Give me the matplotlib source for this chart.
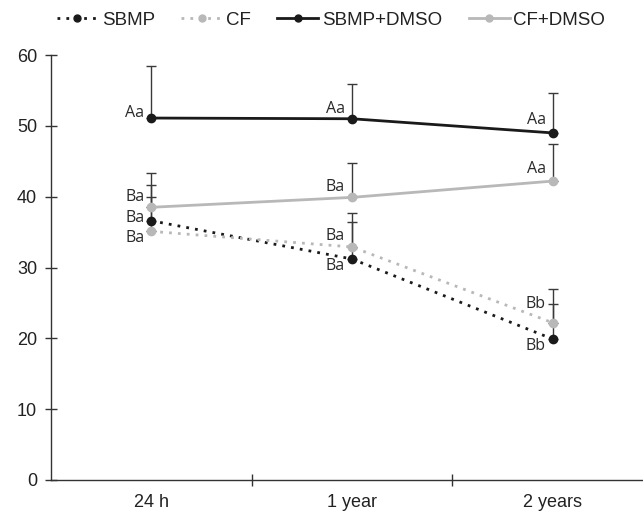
import matplotlib
matplotlib.use("Agg")
import matplotlib.pyplot as plt
from matplotlib.lines import Line2D

categories = ["24 h", "1 year", "2 years"]
series_names = ["SBMP", "CF", "SBMP+DMSO", "CF+DMSO"]
sbmp = [36.6, 31.2, 19.9]
cf = [35.1, 32.9, 22.2]
sbmp_dmso = [51.1, 51.0, 49.0]
cf_dmso = [38.5, 39.9, 42.2]
sbmp_err = [5.0, 5.2, 4.9]
cf_err = [4.9, 4.8, 4.8]
sbmp_dmso_err = [7.4, 4.9, 5.6]
cf_dmso_err = [4.9, 4.8, 5.3]
sbmp_lbl = ["Ba", "Ba", "Bb"]
cf_lbl = ["Ba", "Ba", "Bb"]
sbmp_dmso_lbl = ["Aa", "Aa", "Aa"]
cf_dmso_lbl = ["Ba", "Ba", "Aa"]
yticks = [0, 10, 20, 30, 40, 50, 60]

BLACK = "#1a1a1a"
GRAY = "#b8b8b8"
DOT = (0, (1, 2.2))

fig = plt.figure(figsize=(6.43, 5.13), dpi=100)
ax = fig.add_axes([51/643, 1-480/513, 1-51/643, (480-55)/513])

x = list(range(len(categories)))
styles = [
    (sbmp, sbmp_err, sbmp_lbl, BLACK, DOT),
    (cf, cf_err, cf_lbl, GRAY, DOT),
    (sbmp_dmso, sbmp_dmso_err, sbmp_dmso_lbl, BLACK, "-"),
    (cf_dmso, cf_dmso_err, cf_dmso_lbl, GRAY, "-"),
]
# per-point vertical label offsets (pixels)
offs = {
    0: [3, -7, -7],
    1: [-6, 11, 18],
    2: [5, 9, 12],
    3: [10, 10, 12],
}
for i, (vals, err, lbls, col, ls) in enumerate(styles):
    ax.errorbar(x, vals, yerr=[[0]*3, err], fmt="none", ecolor="#3a3a3a",
                elinewidth=1, capsize=3.5, capthick=1, zorder=2)
    ax.plot(x, vals, linestyle=ls, color=col, lw=2,
            marker="o", markersize=6, markeredgecolor=col, markerfacecolor=col,
            zorder=3)
    for j in range(3):
        ax.annotate(lbls[j], (x[j], vals[j]), xytext=(-5, offs[i][j] * 0.75),
                    textcoords="offset points", ha="right", va="center",
                    fontsize=11.5, family="Open Sans", color="#2a2a2a")

ax.set_ylim(0, 60)
ax.set_xlim(-0.5, 2.45)
ax.set_yticks(yticks)
ax.set_xticks(x)
ax.set_xticklabels(categories)
ax.set_xticks([0.5, 1.5], minor=True)
ax.tick_params(axis="x", which="major", length=0, pad=10, labelsize=13)
ax.tick_params(axis="x", which="minor", length=9, direction="inout", width=1, color="#333333")
ax.tick_params(axis="y", length=8, direction="inout", width=1, color="#333333", labelsize=13, pad=6)
for lab in ax.get_xticklabels() + ax.get_yticklabels():
    lab.set_family("Liberation Sans")
    lab.set_color("#222222")
for s in ["top", "right"]:
    ax.spines[s].set_visible(False)
for s in ["left", "bottom"]:
    ax.spines[s].set_color("#333333")
    ax.spines[s].set_linewidth(1)

handles = [
    Line2D([], [], color=BLACK, ls=DOT, lw=2, marker="o", ms=5),
    Line2D([], [], color=GRAY, ls=DOT, lw=2, marker="o", ms=5),
    Line2D([], [], color=BLACK, ls="-", lw=2, marker="o", ms=5),
    Line2D([], [], color=GRAY, ls="-", lw=2, marker="o", ms=5),
]
leg = fig.legend(handles, series_names, loc="center", bbox_to_anchor=(331/643, 1-20/513),
                 ncol=4, frameon=False, handlelength=2.2, handletextpad=0.2,
                 columnspacing=1.4, prop={"family": "Liberation Sans", "size": 13.5})
for t in leg.get_texts():
    t.set_color("#222222")

fig.savefig("out.png", dpi=100)
